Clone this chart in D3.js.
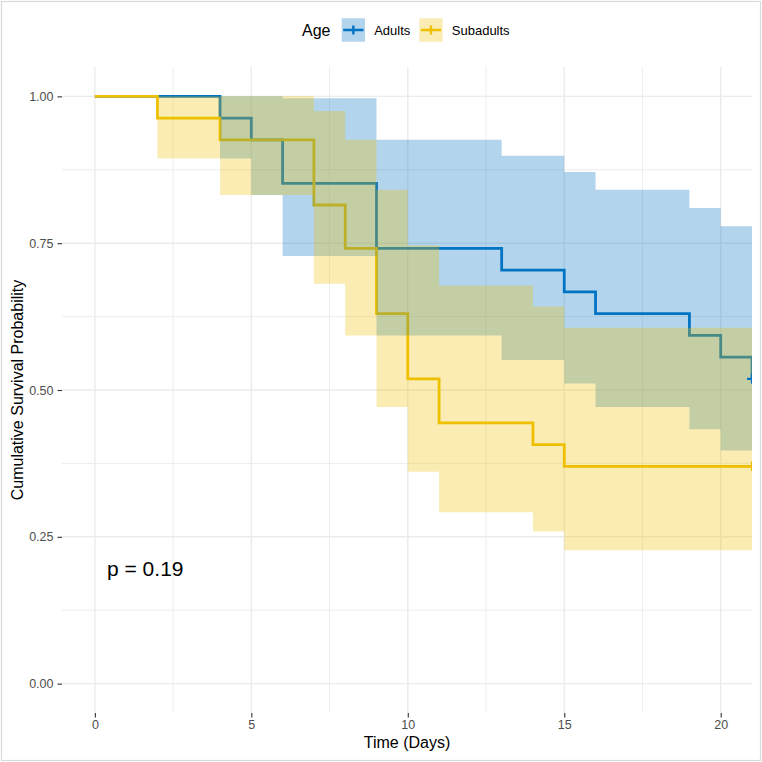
<!DOCTYPE html>
<html>
<head>
<meta charset="utf-8">
<script src="https://cdn.jsdelivr.net/npm/d3@7"></script>
<style>
  body { margin: 0; background: white; }
  text { font-family: "Liberation Sans", Arial, sans-serif; }
</style>
</head>
<body>
<div id="chart"></div>
<script>
// Kaplan-Meier steps
let adultTimes = [0, 4, 5, 6, 9, 13, 15, 16, 19, 20, 21]
let adultSurv  = [1, 0.963, 0.926, 0.852, 0.741, 0.704, 0.667, 0.630, 0.593, 0.556, 0.519]
let adultUpper = [1, 1, 1, 0.997, 0.926, 0.899, 0.871, 0.841, 0.810, 0.779, 0.519]
let adultLower = [1, 0.894, 0.832, 0.728, 0.593, 0.551, 0.511, 0.471, 0.433, 0.397, 0.519]

let subTimes = [0, 2, 4, 7, 8, 9, 10, 11, 14, 15, 21]
let subSurv  = [1, 0.963, 0.926, 0.815, 0.741, 0.630, 0.519, 0.444, 0.407, 0.370, 0.370]
let subUpper = [1, 1, 1, 0.975, 0.926, 0.841, 0.746, 0.678, 0.642, 0.606, 0.606]
let subLower = [1, 0.894, 0.832, 0.681, 0.593, 0.471, 0.361, 0.292, 0.259, 0.227, 0.227]

let censorTimes = [21, 21]
let censorSurv = [0.519, 0.370]

let groups = ["Adults", "Subadults"]
let groupColors = ["#0073C2", "#EFC000"]
let xTicks = [0, 5, 10, 15, 20]
let xMinor = [2.5, 7.5, 12.5, 17.5]
let yTicks = [0, 0.25, 0.5, 0.75, 1]
let yMinor = [0.125, 0.375, 0.625, 0.875]
let pLabel = "p = 0.19"

function buildRows(times, surv, upper, lower){
    return times.map(function(t, i){
        return {t: t, s: surv[i], hi: upper[i], lo: lower[i]}
    })
}

let series = [
    buildRows(adultTimes, adultSurv, adultUpper, adultLower),
    buildRows(subTimes, subSurv, subUpper, subLower)
]

let width = 762, height = 762
let panel = {left: 62, right: 752, top: 67, bottom: 713}

let svg = d3.select("#chart").append("svg")
    .attr("width", width)
    .attr("height", height)

svg.append("rect")
    .attr("x", 1.5).attr("y", 1.5)
    .attr("width", width - 3).attr("height", height - 3)
    .style("fill", "white")
    .style("stroke", "#d9d9d9")
    .style("stroke-width", 1.2)

let xScale = d3.scaleLinear().domain([-1.05, 21]).range([panel.left, panel.right])
let yScale = d3.scaleLinear().domain([-0.05, 1.05]).range([panel.bottom, panel.top])

svg.append("clipPath").attr("id", "panelClip")
    .append("rect")
    .attr("x", panel.left).attr("y", panel.top)
    .attr("width", panel.right - panel.left)
    .attr("height", panel.bottom - panel.top)

// grid
let grid = svg.append("g")
grid.selectAll(".vminor").data(xMinor).enter().append("line")
    .attr("x1", d => xScale(d)).attr("x2", d => xScale(d))
    .attr("y1", panel.top).attr("y2", panel.bottom)
    .style("stroke", "#ebebeb").style("stroke-width", 0.9)
grid.selectAll(".hminor").data(yMinor).enter().append("line")
    .attr("x1", panel.left).attr("x2", panel.right)
    .attr("y1", d => yScale(d)).attr("y2", d => yScale(d))
    .style("stroke", "#ebebeb").style("stroke-width", 0.9)
grid.selectAll(".vmajor").data(xTicks).enter().append("line")
    .attr("x1", d => xScale(d)).attr("x2", d => xScale(d))
    .attr("y1", panel.top).attr("y2", panel.bottom)
    .style("stroke", "#ebebeb").style("stroke-width", 1.4)
grid.selectAll(".hmajor").data(yTicks).enter().append("line")
    .attr("x1", panel.left).attr("x2", panel.right)
    .attr("y1", d => yScale(d)).attr("y2", d => yScale(d))
    .style("stroke", "#ebebeb").style("stroke-width", 1.4)

let plot = svg.append("g").attr("clip-path", "url(#panelClip)")

let stepLine = d3.line()
    .x(d => xScale(d.t))
    .y(d => yScale(d.s))
    .curve(d3.curveStepAfter)

let stepBand = d3.area()
    .x(d => xScale(d.t))
    .y0(d => yScale(d.lo))
    .y1(d => yScale(d.hi))
    .curve(d3.curveStepAfter)

// lines first, ribbons on top of them (as in the picture)
series.forEach(function(rows, i){
    plot.append("path")
        .attr("d", stepLine(rows))
        .style("fill", "none")
        .style("stroke", groupColors[i])
        .style("stroke-width", 2.8)
})
series.forEach(function(rows, i){
    plot.append("path")
        .attr("d", stepBand(rows))
        .style("fill", groupColors[i])
        .style("fill-opacity", 0.3)
        .style("stroke", "none")
})

// censor marks
censorTimes.forEach(function(t, i){
    let cx = xScale(t), cy = yScale(censorSurv[i])
    plot.append("path")
        .attr("d", "M" + (cx - 5) + "," + cy + "H" + (cx + 5) + "M" + cx + "," + (cy - 5) + "V" + (cy + 5))
        .style("stroke", groupColors[i])
        .style("stroke-width", 2.2)
})

// axes
let xAxis = svg.append("g")
    .attr("transform", "translate(0," + panel.bottom + ")")
    .call(d3.axisBottom(xScale).tickValues(xTicks).tickSize(4.5).tickPadding(3).tickFormat(d3.format("d")))
xAxis.select(".domain").remove()

let yAxis = svg.append("g")
    .attr("transform", "translate(" + panel.left + ",0)")
    .call(d3.axisLeft(yScale).tickValues(yTicks).tickSize(4.5).tickPadding(4).tickFormat(d3.format(".2f")))
yAxis.select(".domain").remove()

svg.selectAll(".tick line").style("stroke", "#333333").style("stroke-width", 1.1)
svg.selectAll(".tick text")
    .style("font-family", "Liberation Sans, Arial, sans-serif")
    .style("font-size", "12.5px")
    .style("fill", "#4d4d4d")

svg.append("text")
    .attr("x", (panel.left + panel.right) / 2)
    .attr("y", 748)
    .attr("text-anchor", "middle")
    .style("font-size", "16px")
    .style("fill", "black")
    .text("Time (Days)")

svg.append("text")
    .attr("transform", "translate(23," + (panel.top + panel.bottom) / 2 + ") rotate(-90)")
    .attr("text-anchor", "middle")
    .style("font-size", "16px")
    .style("fill", "black")
    .text("Cumulative Survival Probability")

svg.append("text")
    .attr("x", 107)
    .attr("y", 576)
    .style("font-size", "21px")
    .style("fill", "black")
    .text(pLabel)

// legend
let legend = svg.append("g")
legend.append("text")
    .attr("x", 302).attr("y", 36)
    .style("font-size", "16px")
    .text("Age")

let keyX = [341.7, 419.3]
groups.forEach(function(g, i){
    let kx = keyX[i]
    legend.append("rect")
        .attr("x", kx).attr("y", 18.3)
        .attr("width", 23.3).attr("height", 23.4)
        .style("fill", groupColors[i])
        .style("fill-opacity", 0.3)
    legend.append("path")
        .attr("d", "M" + (kx + 1.5) + ",30H" + (kx + 21.8) + "M" + (kx + 11.65) + ",25.5V34.5")
        .style("stroke", groupColors[i])
        .style("stroke-width", 2.4)
    legend.append("text")
        .attr("x", kx + 32.5).attr("y", 35)
        .style("font-size", "13px")
        .text(g)
})
</script>
</body>
</html>
